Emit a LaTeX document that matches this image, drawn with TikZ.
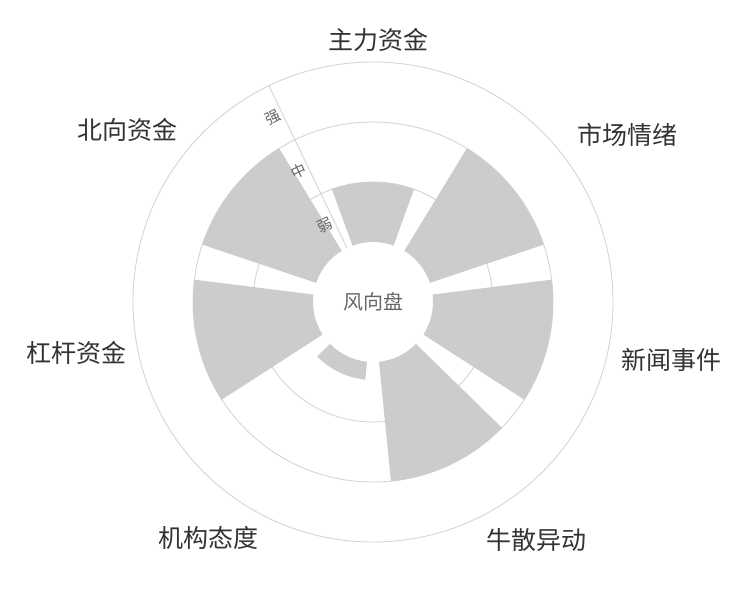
\documentclass[tikz,border=0pt]{standalone}
\usepackage{fontspec}
\usetikzlibrary{calc}
\newfontfamily\cjk{Noto Sans CJK SC}
\begin{document}
\begin{tikzpicture}[x=1pt,y=1pt,
  bar/.style={fill=barfill,draw=none},
  grid/.style={draw=gridline,line width=0.9pt},
  cat/.style={font=\cjk\fontsize{25}{25}\selectfont,text=labeltext},
  axlab/.style={font=\cjk\fontsize{15}{15}\selectfont,text=axtext,rotate=25.7}]
\definecolor{barfill}{HTML}{CCCCCC}
\definecolor{gridline}{HTML}{D4D4D4}
\definecolor{labeltext}{HTML}{333333}
\definecolor{axtext}{HTML}{666666}
\useasboundingbox (0,0) rectangle (750,-600);
\begin{scope}[shift={(373,-302)}]
  \foreach \r in {120,180,240} \draw[grid] (0,0) circle[radius=\r];
  \foreach \k/\rr in {0/120,1/180,2/180,3/180,4/78,5/180,6/180}{
    \pgfmathsetmacro\pa{90-\k*360/7+20}
    \pgfmathsetmacro\pb{90-\k*360/7-20}
    \fill[bar] (\pa:60) arc[start angle=\pa,end angle=\pb,radius=60]
      -- (\pb:\rr) arc[start angle=\pb,end angle=\pa,radius=\rr] -- cycle;
  }
  \coordinate (ax0) at (115.7:60);
  \coordinate (ax1) at (115.7:240);
  \draw[grid] (ax0) -- (ax1);
  \node[circle,minimum size=120pt,inner sep=0pt,font=\cjk\fontsize{20}{20}\selectfont,text=axtext] (ctr) at (0,0) {风向盘};
  \node[axlab] (w) at ($(115.7:90)+(205.7:10)$) {弱};
  \node[axlab] (m) at ($(115.7:150)+(205.7:10)$) {中};
  \node[axlab] (s) at ($(115.7:210)+(205.7:10)$) {强};
\end{scope}
\node[cat] (l1) at (378,-40) {主力资金};
\node[cat] (l2) at (627,-135) {市场情绪};
\node[cat] (l3) at (671,-360) {新闻事件};
\node[cat] (l4) at (536,-540) {牛散异动};
\node[cat] (l5) at (208,-538) {机构态度};
\node[cat] (l6) at (77,-353) {杠杆资金};
\node[cat] (l7) at (127,-130) {北向资金};
\end{tikzpicture}
\end{document}
